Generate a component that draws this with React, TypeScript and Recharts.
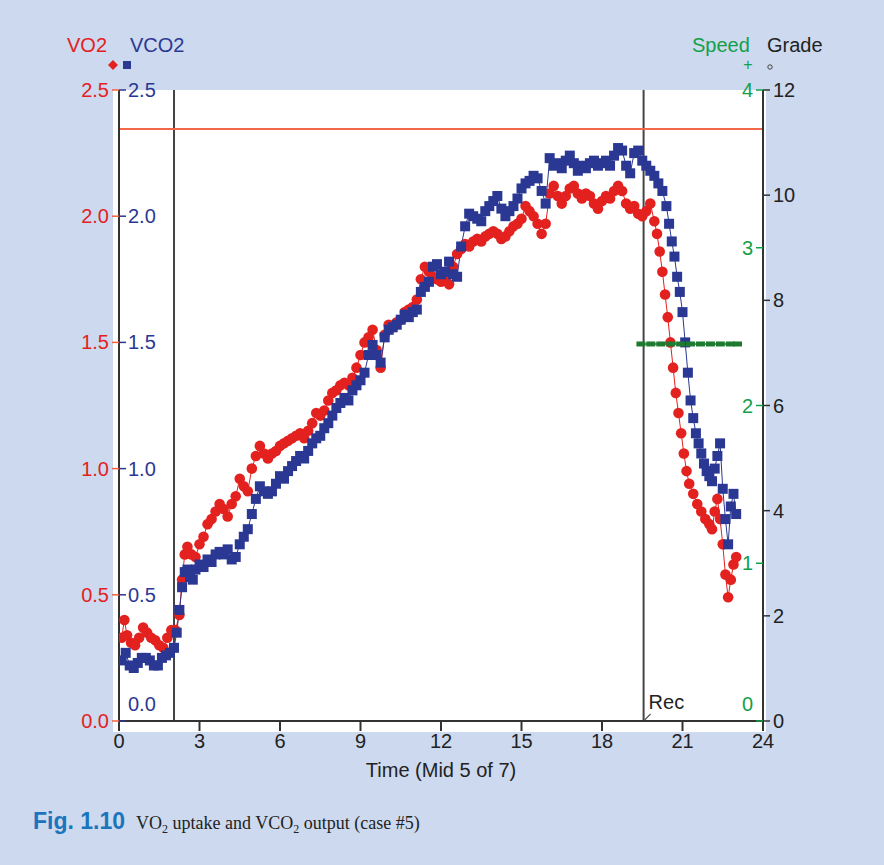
import React from "react";
import {
  ComposedChart,
  Line,
  XAxis,
  YAxis,
  ReferenceLine,
} from "recharts";

// ---- data (time in minutes, L/min) ----
const vo2Points: [number, number][] = [
  [0.1, 0.33], [0.2, 0.4], [0.3, 0.34], [0.45, 0.31], [0.6, 0.3], [0.75, 0.33], [0.9, 0.37], [1.05, 0.35],
  [1.2, 0.33], [1.35, 0.32], [1.5, 0.3], [1.65, 0.29], [1.8, 0.33], [1.95, 0.36], [2.1, 0.36], [2.25, 0.42],
  [2.35, 0.56], [2.45, 0.66], [2.55, 0.69], [2.7, 0.66], [2.85, 0.65], [3.0, 0.7], [3.15, 0.73], [3.3, 0.78],
  [3.45, 0.8], [3.6, 0.83], [3.75, 0.86], [3.9, 0.84], [4.05, 0.81], [4.2, 0.86], [4.35, 0.89], [4.5, 0.96],
  [4.65, 0.93], [4.8, 0.91], [4.95, 1.0], [5.1, 1.05], [5.25, 1.09], [5.4, 1.06], [5.55, 1.04], [5.7, 1.06],
  [5.85, 1.07], [6.0, 1.09], [6.15, 1.1], [6.3, 1.11], [6.45, 1.12], [6.6, 1.13], [6.75, 1.14], [6.9, 1.12],
  [7.05, 1.15], [7.2, 1.18], [7.35, 1.22], [7.5, 1.21], [7.65, 1.23], [7.8, 1.27], [7.95, 1.3], [8.1, 1.31],
  [8.25, 1.33], [8.4, 1.34], [8.55, 1.33], [8.7, 1.36], [8.85, 1.4], [9.0, 1.45], [9.15, 1.5], [9.3, 1.52],
  [9.45, 1.55], [9.6, 1.47], [9.75, 1.4], [9.9, 1.53], [10.05, 1.57], [10.2, 1.56], [10.35, 1.58], [10.5, 1.59],
  [10.65, 1.62], [10.8, 1.63], [10.95, 1.64], [11.1, 1.67], [11.25, 1.75], [11.4, 1.8], [11.55, 1.78], [11.7, 1.76],
  [11.85, 1.75], [12.0, 1.74], [12.15, 1.75], [12.3, 1.73], [12.45, 1.8], [12.6, 1.85], [12.75, 1.87], [12.9, 1.89],
  [13.05, 1.88], [13.2, 1.9], [13.35, 1.91], [13.5, 1.9], [13.65, 1.92], [13.8, 1.93], [13.95, 1.94], [14.1, 1.93],
  [14.25, 1.91], [14.4, 1.92], [14.55, 1.94], [14.7, 1.96], [14.85, 1.97], [15.0, 1.99], [15.15, 2.04], [15.3, 2.02],
  [15.45, 2.0], [15.6, 1.97], [15.75, 1.93], [15.9, 1.97], [16.05, 2.09], [16.2, 2.12], [16.35, 2.08], [16.5, 2.05],
  [16.65, 2.08], [16.8, 2.11], [16.95, 2.12], [17.1, 2.09], [17.25, 2.07], [17.4, 2.09], [17.55, 2.08], [17.7, 2.05],
  [17.85, 2.03], [18.0, 2.06], [18.15, 2.08], [18.3, 2.07], [18.45, 2.1], [18.6, 2.12], [18.75, 2.1], [18.9, 2.05],
  [19.05, 2.03], [19.2, 2.04], [19.35, 2.01], [19.5, 2.0], [19.65, 2.02], [19.8, 2.05], [19.95, 1.98], [20.05, 1.93],
  [20.15, 1.86], [20.25, 1.78], [20.35, 1.69], [20.45, 1.6], [20.55, 1.5], [20.65, 1.4], [20.75, 1.3], [20.85, 1.22],
  [20.95, 1.14], [21.05, 1.06], [21.15, 0.99], [21.25, 0.94], [21.4, 0.9], [21.55, 0.86], [21.7, 0.83], [21.85, 0.8],
  [22.0, 0.78], [22.1, 0.76], [22.2, 0.83], [22.3, 0.88], [22.4, 0.8], [22.5, 0.7], [22.6, 0.58], [22.7, 0.49],
  [22.8, 0.56], [22.9, 0.62], [23.0, 0.65],
];

const vco2Points: [number, number][] = [
  [0.1, 0.24], [0.25, 0.27], [0.4, 0.22], [0.55, 0.21], [0.7, 0.23], [0.85, 0.25], [1.0, 0.25], [1.15, 0.24],
  [1.3, 0.22], [1.45, 0.22], [1.6, 0.25], [1.75, 0.26], [1.9, 0.27], [2.05, 0.29], [2.15, 0.35], [2.25, 0.44],
  [2.35, 0.53], [2.45, 0.59], [2.55, 0.6], [2.65, 0.57], [2.75, 0.56], [2.85, 0.6], [3.0, 0.62], [3.15, 0.61],
  [3.3, 0.64], [3.45, 0.63], [3.6, 0.66], [3.75, 0.67], [3.9, 0.66], [4.05, 0.68], [4.2, 0.64], [4.35, 0.65],
  [4.5, 0.7], [4.65, 0.73], [4.8, 0.76], [4.95, 0.82], [5.1, 0.88], [5.25, 0.93], [5.4, 0.91], [5.55, 0.9],
  [5.7, 0.91], [5.85, 0.94], [6.0, 0.97], [6.15, 0.96], [6.3, 0.99], [6.45, 1.01], [6.6, 1.03], [6.75, 1.05],
  [6.9, 1.04], [7.05, 1.07], [7.2, 1.1], [7.35, 1.12], [7.5, 1.13], [7.65, 1.16], [7.8, 1.18], [7.95, 1.21],
  [8.1, 1.24], [8.25, 1.26], [8.4, 1.28], [8.55, 1.27], [8.7, 1.31], [8.85, 1.33], [9.0, 1.35], [9.15, 1.38],
  [9.3, 1.45], [9.45, 1.49], [9.6, 1.45], [9.75, 1.42], [9.9, 1.52], [10.05, 1.55], [10.2, 1.56], [10.35, 1.57],
  [10.5, 1.59], [10.65, 1.61], [10.8, 1.6], [10.95, 1.62], [11.1, 1.63], [11.25, 1.7], [11.4, 1.72], [11.55, 1.74],
  [11.7, 1.8], [11.85, 1.81], [12.0, 1.77], [12.15, 1.78], [12.3, 1.82], [12.45, 1.77], [12.6, 1.76], [12.75, 1.88],
  [12.9, 1.96], [13.05, 2.01], [13.2, 2.0], [13.35, 1.99], [13.5, 1.98], [13.65, 2.02], [13.8, 2.04], [13.95, 2.06],
  [14.1, 2.08], [14.25, 2.03], [14.4, 2.0], [14.55, 2.02], [14.7, 2.04], [14.85, 2.07], [15.0, 2.11], [15.15, 2.13],
  [15.3, 2.14], [15.45, 2.16], [15.6, 2.15], [15.75, 2.1], [15.9, 2.05], [16.05, 2.23], [16.2, 2.2], [16.35, 2.21],
  [16.5, 2.19], [16.65, 2.22], [16.8, 2.24], [16.95, 2.21], [17.1, 2.18], [17.25, 2.2], [17.4, 2.19], [17.55, 2.21],
  [17.7, 2.22], [17.85, 2.2], [18.0, 2.21], [18.15, 2.22], [18.3, 2.2], [18.45, 2.24], [18.6, 2.27], [18.75, 2.26],
  [18.9, 2.2], [19.05, 2.17], [19.2, 2.25], [19.35, 2.26], [19.5, 2.22], [19.65, 2.2], [19.8, 2.18], [19.95, 2.16],
  [20.1, 2.13], [20.25, 2.1], [20.4, 2.04], [20.5, 1.97], [20.6, 1.9], [20.7, 1.84], [20.8, 1.76], [20.9, 1.7],
  [21.0, 1.62], [21.1, 1.5], [21.2, 1.38], [21.3, 1.27], [21.4, 1.2], [21.5, 1.14], [21.6, 1.1], [21.7, 1.06],
  [21.8, 1.02], [21.9, 0.99], [22.0, 0.97], [22.1, 0.95], [22.2, 1.0], [22.3, 1.05], [22.4, 1.1], [22.5, 0.92],
  [22.6, 0.8], [22.7, 0.7], [22.8, 0.85], [22.9, 0.9], [23.0, 0.82],
];

const speedTimes = [19.45, 19.82, 20.19, 20.56, 20.93, 21.3, 21.67, 22.04, 22.41, 22.78, 23.05];
const speedValues = [2.39, 2.39, 2.39, 2.39, 2.39, 2.39, 2.39, 2.39, 2.39, 2.39, 2.39];

const timeTicks = [0, 3, 6, 9, 12, 15, 18, 21, 24];
const vTicks = [0, 0.5, 1.0, 1.5, 2.0, 2.5];
const gradeTicks = [0, 2, 4, 6, 8, 10, 12];
const speedTicks = [0, 1, 2, 3, 4];
const warmupEnd = 2.05;
const recoveryStart = 19.55;
const vo2Ceiling = 2.345;

const vo2Data = vo2Points.map(([t, v]) => ({ t, v }));
const vco2Data = vco2Points.map(([t, v]) => ({ t, v }));
const speedData = speedTimes.map((t, i) => ({ t, s: speedValues[i] }));

const RED = "#e3211f";
const BLUE = "#2b3893";
const GREEN = "#13a04a";
const DKGREEN = "#1f7a31";
const BG = "#cdd9ee";
const DARK = "#333333";
const FONT = "'Liberation Sans', Arial, Helvetica, sans-serif";
const FS = 20;

const RedDot = (p: any) => (
  <circle key={`r${p.index}`} cx={p.cx} cy={p.cy} r={5.3} fill={RED} />
);
const BlueDot = (p: any) => (
  <rect key={`b${p.index}`} x={p.cx - 5} y={p.cy - 5} width={10} height={10} fill={BLUE} />
);
const SpeedDot = (p: any) => (
  <rect key={`s${p.index}`} x={p.cx - 4.5} y={p.cy - 2.5} width={9} height={5} fill={DKGREEN} />
);

const makeTick =
  (color: string, anchor: "start" | "end", fmt: (v: number) => string, zeroShift: number) =>
  (p: any) => {
    const v = p.payload.value;
    return (
      <text
        x={p.x}
        y={p.y + (v === 0 ? zeroShift : 0)}
        textAnchor={anchor}
        dominantBaseline="central"
        fill={color}
        fontSize={FS}
        fontFamily={FONT}
      >
        {fmt(v)}
      </text>
    );
  };

const VO2Tick = makeTick(RED, "end", (v) => v.toFixed(1), 0);
const VCO2Tick = makeTick(BLUE, "start", (v) => v.toFixed(1), -17);
const GradeTick = makeTick("#222", "start", (v) => String(v), 0);
const SpeedTick = makeTick(GREEN, "end", (v) => String(v), -17);

const RecLabel = (p: any) => {
  const vb = p.viewBox || {};
  const x = vb.x ?? 0;
  const y = (vb.y ?? 0) + (vb.height ?? 0);
  return (
    <g>
      <text x={x + 5} y={y - 12} fontSize={FS} fontFamily={FONT} fill="#222">
        Rec
      </text>
      <line x1={x + 1} y1={y - 1} x2={x + 7} y2={y - 7} stroke="#555" strokeWidth={1.2} />
    </g>
  );
};

export default function App() {
  return (
    <div
      style={{
        position: "absolute",
        left: 0,
        top: 0,
        width: 884,
        height: 865,
        background: BG,
        overflow: "hidden",
      }}
    >
      <div
        style={{
          position: "absolute",
          left: 113,
          top: 90,
          width: 653,
          height: 642,
          background: "#ffffff",
        }}
      />
      <div style={{ position: "absolute", left: 0, top: 0 }}>
        <ComposedChart
          width={884}
          height={800}
          margin={{ top: 90, right: 61, bottom: 19, left: 0 }}
        >
          <XAxis
            type="number"
            dataKey="t"
            domain={[0, 24]}
            ticks={timeTicks}
            allowDataOverflow
            height={60}
            axisLine={{ stroke: DARK, strokeWidth: 2 }}
            tickLine={{ stroke: DARK, strokeWidth: 2 }}
            tickSize={10}
            tickMargin={3}
            tick={{ fill: "#222", fontSize: FS, fontFamily: FONT }}
            label={{
              value: "Time (Mid 5 of 7)",
              position: "insideBottom",
              offset: 4,
              fill: "#222",
              fontSize: FS,
              fontFamily: FONT,
            }}
          />
          <YAxis
            yAxisId="vo2"
            orientation="left"
            width={119}
            domain={[0, 2.5]}
            ticks={vTicks}
            allowDataOverflow
            axisLine={{ stroke: DARK, strokeWidth: 2 }}
            tickLine={{ stroke: "#f0603a", strokeWidth: 1.5 }}
            tickSize={7}
            tickMargin={3}
            tick={VO2Tick}
          />
          <YAxis
            yAxisId="vco2"
            orientation="left"
            mirror
            domain={[0, 2.5]}
            ticks={vTicks}
            allowDataOverflow
            axisLine={false}
            tickLine={{ stroke: BLUE, strokeWidth: 1.5 }}
            tickSize={7}
            tickMargin={2}
            tick={VCO2Tick}
          />
          <YAxis
            yAxisId="grade"
            orientation="right"
            width={60}
            domain={[0, 12]}
            ticks={gradeTicks}
            allowDataOverflow
            axisLine={{ stroke: DARK, strokeWidth: 2 }}
            tickLine={{ stroke: DARK, strokeWidth: 1.5 }}
            tickSize={7}
            tickMargin={3}
            tick={GradeTick}
          />
          <YAxis
            yAxisId="speed"
            orientation="right"
            mirror
            domain={[0, 4]}
            ticks={speedTicks}
            allowDataOverflow
            axisLine={false}
            tickLine={{ stroke: GREEN, strokeWidth: 1.5 }}
            tickSize={7}
            tickMargin={3}
            tick={SpeedTick}
          />
          <ReferenceLine
            yAxisId="vo2"
            x={warmupEnd}
            stroke="#444"
            strokeWidth={2}
          />
          <ReferenceLine
            yAxisId="vo2"
            x={recoveryStart}
            stroke="#444"
            strokeWidth={2}
            label={<RecLabel />}
          />
          <ReferenceLine
            yAxisId="vo2"
            y={vo2Ceiling}
            stroke="#f2674a"
            strokeWidth={2}
          />
          <Line
            yAxisId="vo2"
            data={vo2Data}
            dataKey="v"
            stroke={RED}
            strokeWidth={1}
            dot={RedDot}
            isAnimationActive={false}
          />
          <Line
            yAxisId="vco2"
            data={vco2Data}
            dataKey="v"
            stroke={BLUE}
            strokeWidth={1}
            dot={BlueDot}
            isAnimationActive={false}
          />
          <Line
            yAxisId="speed"
            data={speedData}
            dataKey="s"
            stroke={DKGREEN}
            strokeWidth={1.5}
            dot={SpeedDot}
            isAnimationActive={false}
          />
        </ComposedChart>
      </div>
      <svg
        width={884}
        height={865}
        style={{ position: "absolute", left: 0, top: 0, pointerEvents: "none" }}
      >
        <text x={67} y={52} fontSize={FS} fontFamily={FONT} fill={RED}>
          VO2
        </text>
        <text x={130} y={52} fontSize={FS} fontFamily={FONT} fill={BLUE}>
          VCO2
        </text>
        <polygon points="113,60 118,65 113,70 108,65" fill={RED} />
        <rect x={123} y={61} width={8} height={8} fill={BLUE} />
        <text x={692} y={52} fontSize={FS} fontFamily={FONT} fill={GREEN}>
          Speed
        </text>
        <text x={767} y={52} fontSize={FS} fontFamily={FONT} fill="#222">
          Grade
        </text>
        <text x={748} y={70} fontSize={16} fontFamily={FONT} fill={GREEN} textAnchor="middle">
          +
        </text>
        <circle cx={770} cy={67} r={2.2} fill="none" stroke="#444" strokeWidth={1} />
        <text x={33} y={829} fontSize={23} fontWeight="bold" fontFamily={FONT} fill="#1b75bc">
          Fig. 1.10
        </text>
        <text x={136} y={829} fontSize={18} fontFamily="'Liberation Serif', 'Times New Roman', serif" fill="#222">
          VO
          <tspan fontSize={12} dy={4}>2</tspan>
          <tspan dy={-4}> uptake and VCO</tspan>
          <tspan fontSize={12} dy={4}>2</tspan>
          <tspan dy={-4}> output (case #5)</tspan>
        </text>
      </svg>
    </div>
  );
}
